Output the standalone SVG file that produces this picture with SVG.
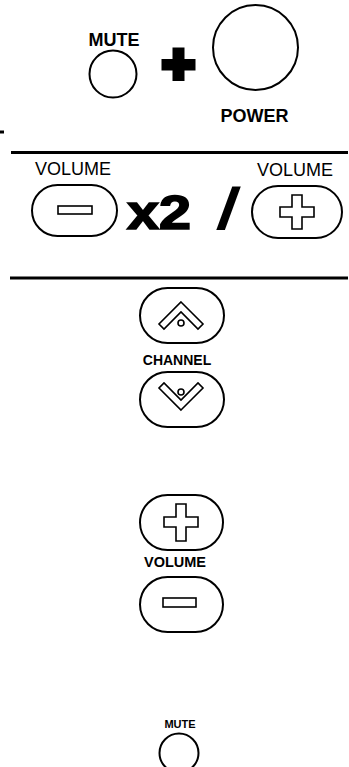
<svg xmlns="http://www.w3.org/2000/svg" width="349" height="767" viewBox="0 0 349 767">
<style>
.btn{fill:#fff;stroke:#000;stroke-width:2}
.sym{fill:#fff;stroke:#000;stroke-width:1.6;stroke-linejoin:miter}
.lb{font-family:"Liberation Sans",Arial,sans-serif;font-weight:bold;fill:#000}
.lr{font-family:"Liberation Sans",Arial,sans-serif;fill:#000}
.rule{stroke:#000;stroke-width:3}
</style>
<rect width="349" height="767" fill="#fff"/>
<g id="connectors">
<line class="rule" x1="0" y1="132" x2="4" y2="132" stroke-width="2"/>
<line class="rule" x1="11" y1="152.5" x2="348" y2="152.5"/>
<line class="rule" x1="10" y1="278" x2="348" y2="278"/>
</g>
<g id="mute-top">
<text class="lb" x="114" y="46" font-size="18" text-anchor="middle">MUTE</text>
<circle class="btn" cx="113" cy="74" r="23.5"/>
</g>
<g id="plus-sign">
<path d="M172.5 47.5h12v11.5h11v11.5h-11v10.5h-12v-10.5h-11v-11.5h11z" fill="#000"/>
</g>
<g id="power">
<circle class="btn" cx="255.5" cy="47.5" r="42.5"/>
<text class="lb" x="254.5" y="122" font-size="18" text-anchor="middle">POWER</text>
</g>
<g id="vol-minus-top">
<text class="lr" x="73" y="175" font-size="18" text-anchor="middle">VOLUME</text>
<rect class="btn" x="32" y="185" width="85" height="51" rx="25.5"/>
<rect class="sym" x="58" y="206" width="34" height="8"/>
</g>
<g id="x2">
<text class="lb" transform="translate(159,229) scale(1.2,1)" x="0" y="0" font-size="48" text-anchor="middle" stroke="#000" stroke-width="1.6">x2</text>
<text class="lb" transform="translate(225,228) skewX(-10)" x="0" y="0" font-size="56" text-anchor="middle" stroke="#000" stroke-width="2">/</text>
</g>
<g id="vol-plus-top">
<text class="lr" x="295" y="176" font-size="18" text-anchor="middle">VOLUME</text>
<rect class="btn" x="252" y="186" width="90" height="52" rx="26"/>
<path class="sym" d="M292 195h10v12h12v10h-12v12h-10v-12h-12v-10h12z"/>
</g>
<g id="ch-up">
<rect class="btn" x="140" y="288" width="84" height="55" rx="27.5"/>
<path class="sym" d="M181 302L203 324L198 329L181 312L164 329L159 324Z"/>
<circle class="sym" cx="181" cy="323" r="3"/>
</g>
<g id="ch-label">
<text class="lb" x="177" y="365" font-size="14" text-anchor="middle">CHANNEL</text>
</g>
<g id="ch-down">
<rect class="btn" x="140" y="372" width="84" height="55" rx="27.5"/>
<path class="sym" d="M181 410L203 388L198 383L181 400L164 383L159 388Z"/>
<circle class="sym" cx="181" cy="392" r="3"/>
</g>
<g id="vol-plus">
<rect class="btn" x="140" y="495" width="83" height="55" rx="27.5"/>
<path class="sym" d="M176 504h10v13h12v10h-12v14h-10v-14h-12v-10h12z"/>
</g>
<g id="vol-label">
<text class="lb" x="175" y="567" font-size="14.5" text-anchor="middle">VOLUME</text>
</g>
<g id="vol-minus">
<rect class="btn" x="140" y="577" width="83" height="55" rx="27.5"/>
<rect class="sym" x="163" y="598" width="33" height="9"/>
</g>
<g id="mute-bottom">
<text class="lb" x="180" y="728" font-size="11" text-anchor="middle">MUTE</text>
<circle class="btn" cx="179" cy="753" r="19.5"/>
</g>
</svg>
